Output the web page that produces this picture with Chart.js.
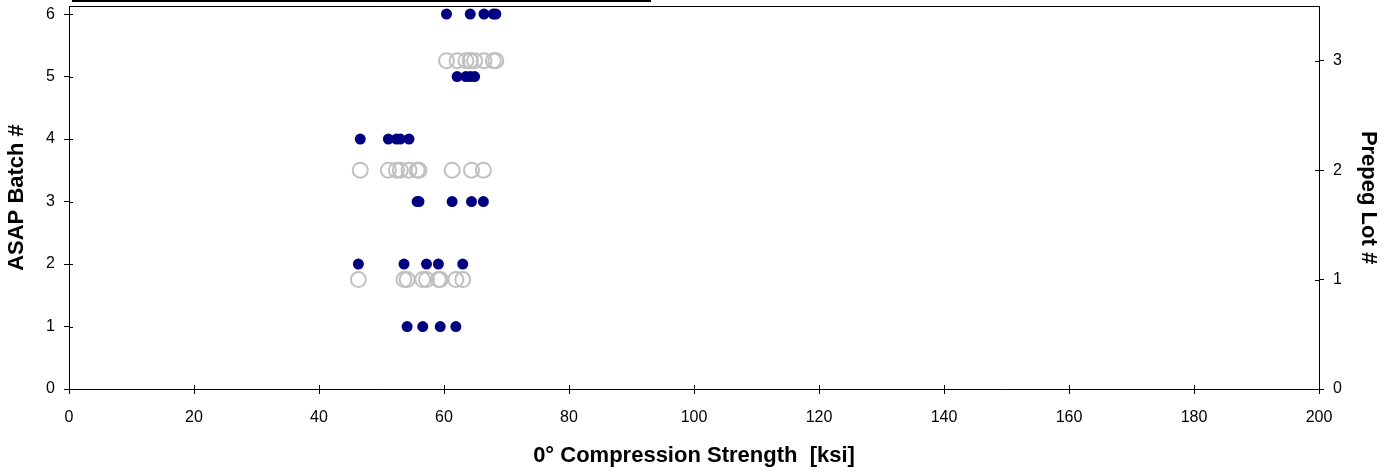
<!DOCTYPE html>
<html>
<head>
<meta charset="utf-8">
<title>0° Compression Strength by ASAP Batch and Prepeg Lot</title>
<script src="https://cdn.jsdelivr.net/npm/chart.js@4/dist/chart.umd.min.js"></script>
<style>
  html, body { margin: 0; padding: 0; background: #ffffff; }
  #wrap { width: 1384px; height: 472px; }
</style>
</head>
<body>
<div id="wrap"><canvas id="myChart" width="1384" height="472"></canvas></div>
<script>
// Compression strengths [ksi] for each ASAP batch
const batch1 = [54.1, 56.6, 59.4, 61.9];
const batch2 = [46.3, 53.6, 57.2, 59.1, 63.0];
const batch3 = [55.7, 56.0, 61.3, 64.4, 66.3];
const batch4 = [46.6, 51.1, 52.4, 53.0, 54.4];
const batch5 = [62.1, 63.5, 64.2, 64.9];
const batch6 = [60.4, 64.2, 66.4, 67.9, 68.3];

// Prepeg lots: lot 1 = batches 1-2, lot 2 = batches 3-4, lot 3 = batches 5-6
const lot1 = [...batch1, ...batch2];
const lot2 = [...batch3, ...batch4];
const lot3 = [...batch5, ...batch6];

const batches = [batch1, batch2, batch3, batch4, batch5, batch6];
const lots = [lot1, lot2, lot3];

const xTicks = [0, 20, 40, 60, 80, 100, 120, 140, 160, 180, 200];
const batchTicks = [0, 1, 2, 3, 4, 5, 6];
const lotTicks = [0, 1, 2, 3];

// Turn the value lists into scatter points
const batchPoints = [];
batches.forEach((vals, i) => vals.forEach(v => batchPoints.push({ x: v, y: i + 1 })));
const lotPoints = [];
lots.forEach((vals, i) => vals.forEach(v => lotPoints.push({ x: v, y: i + 1 })));

const FONT = "'Liberation Sans', Arial, sans-serif";
const tickFont = { family: FONT, size: 16 };
const titleFont = { family: FONT, size: 22, weight: 'bold' };

// fixed axis widths so the plot area lands where it should; no extra room for label overflow
function fixVertical(width) {
  return s => {
    s.width = width;
    s.paddingTop = 0;
    s.paddingBottom = 0;
  };
}

// Frame round the plot area, inner half of the cross tick marks, and the legend box edge at the top
const framePlugin = {
  id: 'frame',
  afterDraw(chart) {
    const { ctx, chartArea: a, scales } = chart;
    ctx.save();
    ctx.strokeStyle = '#000';
    ctx.lineWidth = 1;
    ctx.beginPath();
    ctx.moveTo(a.left, a.top + 0.5);
    ctx.lineTo(a.right, a.top + 0.5);
    // inner ticks
    xTicks.forEach(v => {
      const px = Math.round(scales.x.getPixelForValue(v)) + 0.5;
      ctx.moveTo(px, a.bottom);
      ctx.lineTo(px, a.bottom - 4);
    });
    batchTicks.forEach(v => {
      const py = Math.round(scales.y.getPixelForValue(v)) + 0.5;
      ctx.moveTo(a.left, py);
      ctx.lineTo(a.left + 4, py);
    });
    lotTicks.forEach(v => {
      const py = Math.round(scales.y2.getPixelForValue(v)) + 0.5;
      ctx.moveTo(a.right, py);
      ctx.lineTo(a.right - 4, py);
    });
    ctx.stroke();
    // legend box, mostly above the canvas
    ctx.lineWidth = 2;
    ctx.strokeRect(73, -40, 577, 41);
    ctx.restore();
  }
};

const ctx = document.getElementById('myChart').getContext('2d');
const myChart = new Chart(ctx, {
  type: 'scatter',
  data: {
    datasets: [
      {
        label: 'Prepeg Lot',
        data: lotPoints,
        yAxisID: 'y2',
        clip: false,
        pointStyle: 'circle',
        pointRadius: 7.5,
        pointBorderWidth: 2,
        pointBorderColor: '#c0c0c0',
        pointBackgroundColor: 'rgba(0,0,0,0)'
      },
      {
        label: 'ASAP Batch',
        data: batchPoints,
        yAxisID: 'y',
        clip: false,
        pointStyle: 'circle',
        pointRadius: 5.5,
        pointBorderWidth: 0,
        pointBorderColor: '#000080',
        pointBackgroundColor: '#000080'
      }
    ]
  },
  options: {
    responsive: false,
    animation: false,
    layout: { autoPadding: false, padding: { top: 6, left: 0, right: 0, bottom: 0 } },
    plugins: {
      legend: { display: false },
      tooltip: { enabled: false }
    },
    scales: {
      x: {
        type: 'linear',
        position: 'bottom',
        min: 0,
        max: 200,
        afterBuildTicks: s => { s.ticks = xTicks.map(v => ({ value: v })); },
        afterFit: s => { s.height = 83; s.paddingLeft = 0; s.paddingRight = 0; },
        grid: { drawOnChartArea: false, drawTicks: true, tickLength: 5, color: '#000' },
        border: { display: true, color: '#000', width: 1 },
        ticks: { color: '#000', font: tickFont, padding: 14, maxRotation: 0 },
        title: {
          display: true,
          text: '0° Compression Strength  [ksi]',
          color: '#000',
          font: titleFont,
          padding: { top: 0, bottom: 3 }
        }
      },
      y: {
        type: 'linear',
        position: 'left',
        min: 0,
        max: 6.13,
        afterBuildTicks: s => { s.ticks = batchTicks.map(v => ({ value: v })); },
        afterFit: fixVertical(69),
        grid: { drawOnChartArea: false, drawTicks: true, tickLength: 5, color: '#000' },
        border: { display: true, color: '#000', width: 1 },
        ticks: { color: '#000', font: tickFont, padding: 9 },
        title: {
          display: true,
          text: 'ASAP Batch #',
          color: '#000',
          font: titleFont,
          padding: { top: 4, bottom: 0 }
        }
      },
      y2: {
        type: 'linear',
        position: 'right',
        min: 0,
        max: 3.5,
        afterBuildTicks: s => { s.ticks = lotTicks.map(v => ({ value: v })); },
        afterFit: fixVertical(65),
        grid: { drawOnChartArea: false, drawTicks: true, tickLength: 5, color: '#000' },
        border: { display: true, color: '#000', width: 1 },
        ticks: { color: '#000', font: tickFont, padding: 9 },
        title: {
          display: true,
          text: 'Prepeg Lot #',
          color: '#000',
          font: titleFont,
          padding: { top: 3, bottom: 0 }
        }
      }
    }
  },
  plugins: [framePlugin]
});
</script>
</body>
</html>
